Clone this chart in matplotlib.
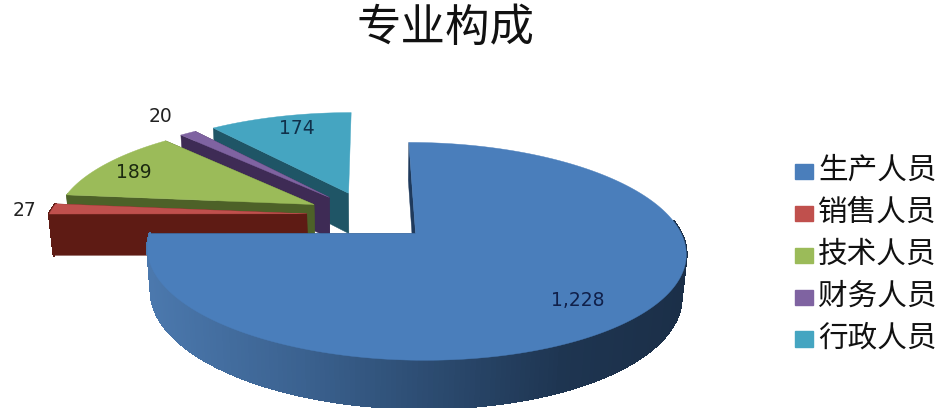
import numpy as np
import matplotlib
matplotlib.use("Agg")
import matplotlib.pyplot as plt
from matplotlib.collections import PolyCollection
from matplotlib.colors import to_rgb
from matplotlib.legend_handler import HandlerPatch
from matplotlib.patches import Patch, Polygon, Rectangle

plt.rcParams['font.family'] = ['Noto Sans CJK SC', 'DejaVu Sans']

# Chart data
title = "专业构成"
categories = ["生产人员", "销售人员", "技术人员", "财务人员", "行政人员"]
values = [1228, 27, 189, 20, 174]

# Styling per slice
top_colors = ["#4a7ebb", "#c0504d", "#9bbb59", "#7f63a1", "#45a5c1"]
wall_colors = ["#1f3a5c", "#5e1b14", "#4d6128", "#3e2b55", "#1f5566"]
explode = [0.253, 0.238, 0.238, 0.238, 0.238]
label_xy = [(578, 300), (24, 210), (134, 172), (160, 117), (297, 129)]
label_colors = ["#10204a", "#222222", "#1c2a10", "#222222", "#10304a"]

# Shading of the large slice's rim, left to right in pixels
rim_x = [150, 300, 420, 560, 680]
rim_rgb = [to_rgb(c) for c in ["#4b78ad", "#3b6290", "#2d4d73", "#1e3551", "#1b2f48"]]

# Camera model for the tilted pie
CX, CY = 368.0, 215.0
RX, RY = 258.0, 100.0
TILT = 0.16
DEPTH = 42.0
DEPTH_SHRINK = 0.015
# Outer-wall segments facing further back than this are never seen
FRONT_LIMIT = 0.12


def project(u, v, z=0.0):
    """Map a point on the unit pie (z=0 top face, z=1 bottom face) to pixels."""
    s = 1.0 / (1.0 + TILT * v + DEPTH_SHRINK * z)
    return CX + RX * u * s, CY - RY * v * s + DEPTH * z * s


def quad_strip(us, vs):
    """Wall quads hanging below a run of top-face points."""
    x0, y0 = project(us, vs, 0.0)
    x1, y1 = project(us, vs, 1.0)
    return [
        [(x0[i], y0[i]), (x0[i + 1], y0[i + 1]), (x1[i + 1], y1[i + 1]), (x1[i], y1[i])]
        for i in range(len(us) - 1)
    ]


def lowered_swatch(legend, orig_handle, xdescent, ydescent, width, height, fontsize):
    """Legend square sitting a little below the text centre."""
    return Rectangle((-xdescent, -ydescent - 2.0), width, height)


fig = plt.figure(figsize=(9.4, 4.08), dpi=100, facecolor="white")
ax = fig.add_axes([0, 0, 1, 1])
ax.set_xlim(0, 940)
ax.set_ylim(408, 0)
ax.axis("off")

total = sum(values)
edges = np.concatenate([[0.0], np.cumsum(values)]) / total * 2 * np.pi

# Back slices are painted first, the large front slice last
for idx in [4, 3, 2, 1, 0]:
    a0, a1 = edges[idx], edges[idx + 1]
    mid = (a0 + a1) / 2
    ox, oy = explode[idx] * np.sin(mid), explode[idx] * np.cos(mid)
    theta = np.linspace(a0, a1, max(int((a1 - a0) * 60), 12))
    arc_u, arc_v = ox + np.sin(theta), oy + np.cos(theta)

    # Radial side walls; the closing edge of the last slice faces away from view
    sides = (a0,) if idx == len(values) - 1 else (a0, a1)
    for a in sides:
        ru = np.array([ox, ox + np.sin(a)])
        rv = np.array([oy, oy + np.cos(a)])
        for quad in quad_strip(ru, rv):
            ax.add_patch(Polygon(quad, closed=True, facecolor=wall_colors[idx],
                                 edgecolor=wall_colors[idx], linewidth=0.3, zorder=idx * -10 + 50))

    # Curved outer wall, front-facing part only
    quads = quad_strip(arc_u, arc_v)
    seg_theta = (theta[:-1] + theta[1:]) / 2
    quads = [q for q, t in zip(quads, seg_theta) if np.cos(t) < FRONT_LIMIT]
    if quads:
        xs = np.array([np.mean([p[0] for p in q]) for q in quads])
        if idx == 0:
            rim = np.array(rim_rgb)
            cols = np.column_stack([np.interp(xs, rim_x, rim[:, c]) for c in range(3)])
        else:
            cols = [to_rgb(wall_colors[idx])] * len(quads)
        ax.add_collection(PolyCollection(quads, facecolors=cols, edgecolors=cols,
                                         linewidths=1.2, antialiaseds=False,
                                         zorder=idx * -10 + 51))

    # Top face
    fx, fy = project(np.concatenate([[ox], arc_u]), np.concatenate([[oy], arc_v]))
    ax.add_patch(Polygon(np.column_stack([fx, fy]), closed=True, facecolor=top_colors[idx],
                         edgecolor=top_colors[idx], linewidth=0.3, zorder=idx * -10 + 52))

# Value labels
for val, (lx, ly), col in zip(values, label_xy, label_colors):
    ax.text(lx, ly, f"{val:,}", ha="center", va="center", fontsize=13.5,
            family="DejaVu Sans", color=col, zorder=100)

ax.text(446, 28, title, ha="center", va="center", fontsize=32, color="#111111", zorder=100)

handles = [Patch(facecolor=c, edgecolor=c, label=n) for c, n in zip(top_colors, categories)]
ax.legend(handles=handles, loc="center left", bbox_to_anchor=(795 / 940, 1 - 254.5 / 408),
          bbox_transform=fig.transFigure, frameon=False, fontsize=21.3,
          handlelength=0.62, handleheight=0.42, handletextpad=0.17, labelspacing=0.37,
          labelcolor="#111111", borderpad=0, borderaxespad=0,
          handler_map={Patch: HandlerPatch(patch_func=lowered_swatch)})

fig.savefig("out.png", dpi=100, facecolor="white")
